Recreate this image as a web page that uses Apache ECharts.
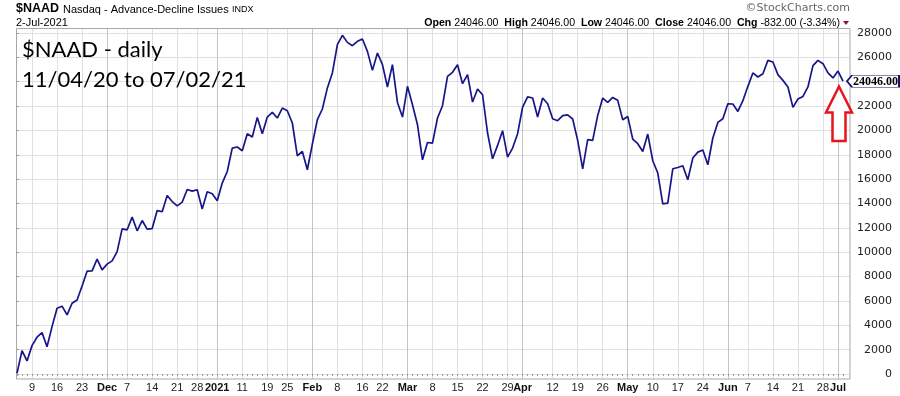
<!DOCTYPE html>
<html>
<head>
<meta charset="utf-8">
<script src="https://cdn.jsdelivr.net/npm/echarts@6/dist/echarts.min.js"></script>
<style>
  html, body { margin: 0; padding: 0; background: #ffffff; }
  #chart { width: 900px; height: 396px; }
</style>
</head>
<body>
<div id="chart"></div>
<script>
// ---------- DATA ----------
const dates = [
  '2020-11-04','2020-11-05','2020-11-06','2020-11-09','2020-11-10','2020-11-11','2020-11-12','2020-11-13',
  '2020-11-16','2020-11-17','2020-11-18','2020-11-19','2020-11-20','2020-11-23','2020-11-24','2020-11-25',
  '2020-11-27','2020-11-30',
  '2020-12-01','2020-12-02','2020-12-03','2020-12-04','2020-12-07','2020-12-08','2020-12-09','2020-12-10',
  '2020-12-11','2020-12-14','2020-12-15','2020-12-16','2020-12-17','2020-12-18','2020-12-21','2020-12-22',
  '2020-12-23','2020-12-24','2020-12-28','2020-12-29','2020-12-30','2020-12-31',
  '2021-01-04','2021-01-05','2021-01-06','2021-01-07','2021-01-08','2021-01-11','2021-01-12','2021-01-13',
  '2021-01-14','2021-01-15','2021-01-19','2021-01-20','2021-01-21','2021-01-22','2021-01-25','2021-01-26',
  '2021-01-27','2021-01-28','2021-01-29',
  '2021-02-01','2021-02-02','2021-02-03','2021-02-04','2021-02-05','2021-02-08','2021-02-09','2021-02-10',
  '2021-02-11','2021-02-12','2021-02-16','2021-02-17','2021-02-18','2021-02-19','2021-02-22','2021-02-23',
  '2021-02-24','2021-02-25','2021-02-26',
  '2021-03-01','2021-03-02','2021-03-03','2021-03-04','2021-03-05','2021-03-08','2021-03-09','2021-03-10',
  '2021-03-11','2021-03-12','2021-03-15','2021-03-16','2021-03-17','2021-03-18','2021-03-19','2021-03-22',
  '2021-03-23','2021-03-24','2021-03-25','2021-03-26','2021-03-29','2021-03-30','2021-03-31',
  '2021-04-01','2021-04-05','2021-04-06','2021-04-07','2021-04-08','2021-04-09','2021-04-12','2021-04-13',
  '2021-04-14','2021-04-15','2021-04-16','2021-04-19','2021-04-20','2021-04-21','2021-04-22','2021-04-23',
  '2021-04-26','2021-04-27','2021-04-28','2021-04-29','2021-04-30',
  '2021-05-03','2021-05-04','2021-05-05','2021-05-06','2021-05-07','2021-05-10','2021-05-11','2021-05-12',
  '2021-05-13','2021-05-14','2021-05-17','2021-05-18','2021-05-19','2021-05-20','2021-05-21','2021-05-24',
  '2021-05-25','2021-05-26','2021-05-27','2021-05-28',
  '2021-06-01','2021-06-02','2021-06-03','2021-06-04','2021-06-07','2021-06-08','2021-06-09','2021-06-10',
  '2021-06-11','2021-06-14','2021-06-15','2021-06-16','2021-06-17','2021-06-18','2021-06-21','2021-06-22',
  '2021-06-23','2021-06-24','2021-06-25','2021-06-28','2021-06-29','2021-06-30',
  '2021-07-01','2021-07-02'
];

const naadValues = [
  60, 1915, 1070, 2330, 3020, 3400, 2240, 3890, 5400, 5570,
  4850, 5810, 6080, 7230, 8440, 8470, 9430, 8550, 9020, 9290,
  10050, 11920, 11840, 12880, 11760, 12600, 11890, 11940, 13420, 13320,
  14660, 14160, 13810, 14110, 15150, 15020, 15130, 13540, 14970, 14800,
  14230, 15680, 16630, 18550, 18640, 18330, 19730, 19460, 21070, 19730,
  21100, 21480, 21020, 21840, 21620, 20610, 17920, 18270, 16770, 18880,
  20880, 21760, 23490, 24720, 27040, 27810, 27230, 26960, 27320, 27510,
  26490, 24930, 26360, 25400, 23570, 25400, 22300, 21100, 23620, 22110,
  20470, 17590, 19010, 18960, 21020, 22030, 24440, 24770, 25400, 23840,
  24580, 22330, 23400, 22930, 19790, 17670, 18770, 19980, 17810, 18550,
  19730, 21920, 22750, 22660, 21100, 22660, 22190, 20960, 20800, 21210,
  21270, 20940, 19180, 16850, 19240, 19180, 21230, 22660, 22300, 22710,
  22470, 20880, 21150, 19290, 18910, 18270, 19700, 17510, 16500, 13970,
  14030, 16850, 16960, 17100, 15950, 17730, 18220, 18390, 17180, 19380,
  20660, 20960, 22190, 22170, 21560, 22440, 23620, 24720, 24390, 24660,
  25750, 25620, 24580, 24110, 23570, 21890, 22580, 22790, 23570, 25320,
  25750, 25480, 24720, 24310, 24878, 24046
];

const yTickMin = 0;
const yTickMax = 28000;
const yTickStep = 2000;

const monthNames = ['Jan','Feb','Mar','Apr','May','Jun','Jul','Aug','Sep','Oct','Nov','Dec'];
const headerTitle = ['$NAAD', 'Nasdaq - Advance-Decline Issues', 'INDX'];
const headerDate = '2-Jul-2021';
const quoteLabels = ['Open', 'High', 'Low', 'Close', 'Chg'];
const quoteValues = ['24046.00', '24046.00', '24046.00', '24046.00', '-832.00 (-3.34%)'];
const annotationLines = ['$NAAD - daily', '11/04/20 to 07/02/21'];

// ---------- LAYOUT ----------
const W = 900, H = 396;
const PLOT_L = 16, PLOT_R = 850, PLOT_T = 28.5, PLOT_B = 379;   // frame
const Y_TOP_TICK = 33, Y_ZERO = 374;                              // pixel of 28000 and 0
const X_FIRST = 17, X_LAST = 843;                                 // first/last trading day
const NAVY = '#16168a';

// ---------- label logic ----------
const info = dates.map(s => {
  const d = new Date(s + 'T00:00:00Z');
  return { y: d.getUTCFullYear(), m: d.getUTCMonth(), day: d.getUTCDate(), dow: d.getUTCDay(), t: d.getTime() };
});
const isMonthStart = info.map((d, i) => i > 0 && d.m !== info[i - 1].m);
const isWeekStart = info.map((d, i) => i > 0 && (d.dow < info[i - 1].dow || (d.t - info[i - 1].t) >= 7 * 864e5));
const labelType = info.map((d, i) => {
  if (isMonthStart[i]) return 'month';
  if (isWeekStart[i]) {
    for (let k = i - 2; k <= i + 2; k++) if (k >= 0 && k < dates.length && isMonthStart[k]) return null;
    return 'week';
  }
  return null;
});

const unit = (Y_ZERO - Y_TOP_TICK) / (yTickMax - yTickMin);
const dataAxisMin = yTickMin - (PLOT_B - Y_ZERO) / unit;
const dataAxisMax = yTickMax + (Y_TOP_TICK - PLOT_T) / unit;

const lastIdx = dates.length - 1;
const lastLabel = naadValues[lastIdx].toFixed(2);

// header rich text
let quoteText = '';
quoteLabels.forEach((l, i) => {
  quoteText += (i ? '  ' : '') + '{b|' + l + '} ' + quoteValues[i];
});

const chart = echarts.init(document.getElementById('chart'), null, { renderer: 'canvas' });

const option = {
  animation: false,
  backgroundColor: '#ffffff',
  grid: [
    { left: PLOT_L, right: W - PLOT_R, top: Y_TOP_TICK, bottom: H - Y_ZERO, containLabel: false },
    { left: X_FIRST, right: W - X_LAST, top: PLOT_T, bottom: H - PLOT_B, containLabel: false }
  ],
  xAxis: [
    {
      gridIndex: 1, type: 'category', data: dates, boundaryGap: false,
      axisLine: { show: false },
      axisTick: { show: true, interval: 0, length: 2, lineStyle: { color: '#9a9a9a', width: 1 } },
      axisLabel: {
        show: true, margin: 3,
        interval: (idx) => !!labelType[idx],
        color: '#222', fontFamily: 'Liberation Sans', fontSize: 11,
        formatter: (value, idx) => {
          const d = info[idx];
          if (labelType[idx] === 'month') return '{m|' + (d.m === 0 ? String(d.y) : monthNames[d.m]) + '}';
          return String(d.day);
        },
        rich: { m: { fontWeight: 'bold', fontFamily: 'Liberation Sans', fontSize: 11, color: '#111' } }
      },
      splitLine: { show: true, interval: (idx) => labelType[idx] === 'week', lineStyle: { color: '#e0e0e0', width: 1 } }
    },
    {
      gridIndex: 1, type: 'category', data: dates, boundaryGap: false, position: 'top',
      axisLine: { show: false }, axisTick: { show: false }, axisLabel: { show: false },
      splitLine: { show: true, interval: (idx) => labelType[idx] === 'month', lineStyle: { color: '#c4c4c4', width: 1 } }
    },
    { gridIndex: 0, type: 'value', show: false, min: 0, max: 1 }
  ],
  yAxis: [
    {
      gridIndex: 0, type: 'value', position: 'right',
      min: yTickMin, max: yTickMax, interval: yTickStep,
      axisLine: { show: false },
      axisTick: { show: true, length: 3, lineStyle: { color: '#999' } },
      axisLabel: { show: true, align: 'right', margin: 42, color: '#222', fontFamily: 'DejaVu Sans', fontSize: 11,
        formatter: (v) => String(v) },
      splitLine: { show: true, lineStyle: { color: '#e0e0e0', width: 1 } }
    },
    { gridIndex: 1, type: 'value', show: false, min: dataAxisMin, max: dataAxisMax, splitLine: { show: false } }
  ],
  series: [
    {
      type: 'line', xAxisIndex: 0, yAxisIndex: 1,
      data: naadValues, showSymbol: false, symbol: 'none',
      lineStyle: { color: NAVY, width: 1.7 },
      z: 5,
      markPoint: {
        symbol: 'path://M0,6L5,0L52,0L52,12L5,12Z',
        symbolSize: [52, 12],
        symbolKeepAspect: false,
        symbolOffset: [30, 0],
        itemStyle: { color: '#ffffff', borderColor: '#14146e', borderWidth: 1 },
        label: {
          show: true, position: 'inside', offset: [2.5, 0.5],
          formatter: () => lastLabel,
          color: '#000', fontFamily: 'Liberation Serif', fontWeight: 'bold', fontSize: 12
        },
        emphasis: { disabled: true },
        data: [{ coord: [dates[lastIdx], naadValues[lastIdx]] }]
      }
    }
  ],
  graphic: [
    // plot frame
    { type: 'rect', z: 1, silent: true,
      shape: { x: PLOT_L + 0.5, y: PLOT_T, width: PLOT_R - PLOT_L - 0.5, height: PLOT_B - PLOT_T },
      style: { fill: 'none', stroke: '#a8a8a8', lineWidth: 1 } },
    // header
    { type: 'text', x: 16, y: 9, z: 10, style: { text: headerTitle[0], font: 'bold 12.5px "Liberation Sans"', fill: '#000', align: 'left', verticalAlign: 'middle' } },
    { type: 'text', x: 63, y: 9.5, z: 10, style: { text: headerTitle[1], font: '11px "Liberation Sans"', fill: '#000', align: 'left', verticalAlign: 'middle' } },
    { type: 'text', x: 232, y: 10, z: 10, style: { text: headerTitle[2], font: '9px "Liberation Sans"', fill: '#000', align: 'left', verticalAlign: 'middle' } },
    { type: 'text', x: 16, y: 23, z: 10, style: { text: headerDate, font: '11px "Liberation Sans"', fill: '#000', align: 'left', verticalAlign: 'middle' } },
    { type: 'text', x: 840, y: 23, z: 10, style: {
        text: quoteText, font: '10.6px "Liberation Sans"', fill: '#000', align: 'right', verticalAlign: 'middle',
        rich: { b: { fontWeight: 'bold', fontFamily: 'Liberation Sans', fontSize: 10.6, fill: '#000' } } } },
    { type: 'polygon', z: 10, shape: { points: [[843, 21], [849, 21], [846, 25]] }, style: { fill: '#8c1430' } },
    { type: 'text', x: 850, y: 8.5, z: 10, style: { text: '\u00A9StockCharts.com', font: '11px "DejaVu Sans"', fill: '#666', align: 'right', verticalAlign: 'middle' } },
    // annotation
    { type: 'text', x: 22, y: 50, z: 10, style: { text: annotationLines[0], font: '22px Lato', fill: '#000', align: 'left', verticalAlign: 'middle' } },
    { type: 'text', x: 22, y: 79.5, z: 10, style: { text: annotationLines[1], font: '22px Lato', fill: '#000', align: 'left', verticalAlign: 'middle' } },
    // red arrow
    { type: 'polygon', z: 20, silent: true,
      shape: { points: [[839, 86.5], [852, 112.5], [845.5, 112.5], [845.5, 141], [832.5, 141], [832.5, 112.5], [826, 112.5]] },
      style: { fill: '#ffffff', stroke: '#e8141c', lineWidth: 2.5, lineJoin: 'miter' } }
  ]
};

chart.setOption(option);
</script>
</body>
</html>
